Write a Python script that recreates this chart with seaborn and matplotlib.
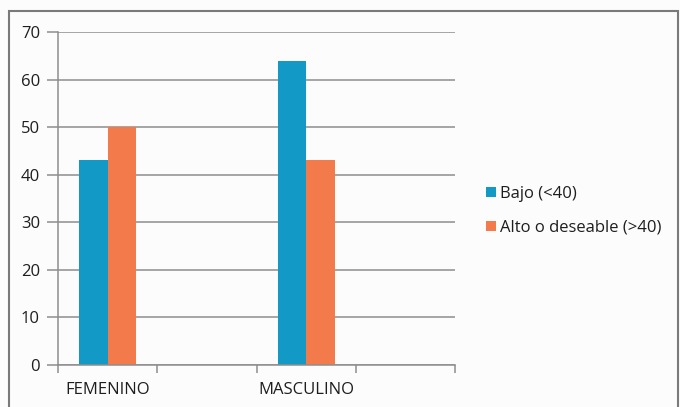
import matplotlib
matplotlib.use("Agg")
import matplotlib.pyplot as plt
import seaborn as sns
import pandas as pd
from matplotlib.patches import Rectangle
from matplotlib.lines import Line2D

# Data
categories = ["FEMENINO", "MASCULINO"]
series_names = ["Bajo (<40)", "Alto o deseable (>40)"]
bajo = [43, 64]
alto = [50, 43]
y_ticks = [0, 10, 20, 30, 40, 50, 60, 70]

colors = ["#1399C6", "#F37A4A"]
grid_col = "#8E8E8E"
text_col = "#1E1E1E"

df = pd.DataFrame({
    "grupo": categories * 2,
    "serie": [series_names[0]] * 2 + [series_names[1]] * 2,
    "valor": bajo + alto,
})

sns.set_theme(style="white")
plt.rcParams["font.family"] = ["Open Sans", "DejaVu Sans"]

fig = plt.figure(figsize=(6.8, 4.07), dpi=100)
fig.patch.set_facecolor("#FCFCFC")
ax = fig.add_axes([58 / 680, 1 - 365 / 407, (455 - 58) / 680, (365 - 32) / 407])
ax.set_facecolor("#FCFCFC")

# Four category slots: two labelled groups and two empty slots after each
order = ["FEMENINO", " ", "MASCULINO", "  "]
sns.barplot(data=df, x="grupo", y="valor", hue="serie", order=order,
            hue_order=series_names, palette=colors, width=0.575,
            saturation=1, ax=ax, legend=False, linewidth=0)

ax.set_xlim(-0.5, 3.5)
ax.set_ylim(0, 70)
ax.set_yticks(y_ticks)
ax.yaxis.grid(True, color=grid_col, linewidth=1.1)
ax.set_axisbelow(True)
ax.set_xlabel("")
ax.set_ylabel("")

# Excel-style ticks on category boundaries, labels centred on slots
ax.set_xticks([-0.5, 0.5, 1.5, 2.5, 3.5])
ax.set_xticklabels([])
ax.set_xticks([0, 2], minor=True)
ax.set_xticklabels(["FEMENINO", "MASCULINO"], minor=True)
ax.tick_params(axis="x", which="major", length=6, width=1.1, color=grid_col, bottom=True)
ax.tick_params(axis="x", which="minor", length=0, pad=12, labelsize=12, labelcolor=text_col)
ax.tick_params(axis="y", length=8, width=1.1, color=grid_col, left=True, labelsize=12,
               labelcolor=text_col, pad=5)

for s in ["top", "right"]:
    ax.spines[s].set_visible(False)
for s in ["left", "bottom"]:
    ax.spines[s].set_color(grid_col)
    ax.spines[s].set_linewidth(1.1)

# Legend at right
handles = [Line2D([], [], marker="s", linestyle="", markersize=7.5,
                  markerfacecolor=c, markeredgewidth=0) for c in colors]
fig.legend(handles, series_names, loc="center left",
           bbox_to_anchor=(472 / 680, 1 - 211 / 407), frameon=False,
           fontsize=12, handlelength=0.5, handletextpad=0.3, labelspacing=1.05,
           labelcolor=text_col)

# Outer chart frame
fig.add_artist(Rectangle((9 / 680, -0.05), (678 - 9) / 680, 1.05 - 10.5 / 407,
                         transform=fig.transFigure, fill=False,
                         edgecolor="#7A7A7A", linewidth=1.5))

fig.savefig("out.png", dpi=100, facecolor=fig.get_facecolor())
